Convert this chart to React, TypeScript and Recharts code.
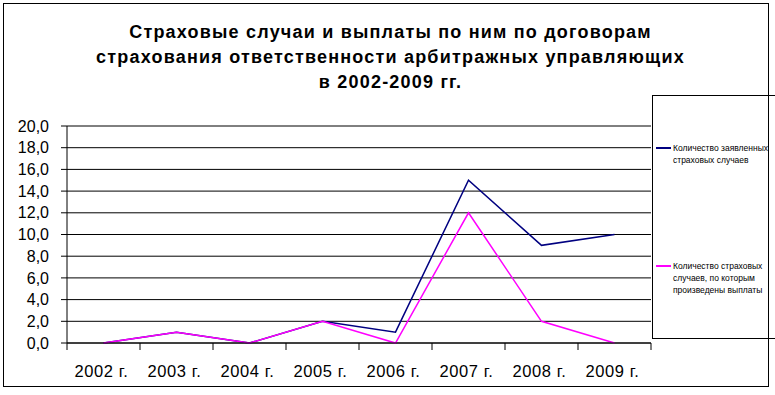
import React from 'react'
import { LineChart, Line, CartesianGrid, XAxis, YAxis } from 'recharts'

const years = ['2002 г.', '2003 г.', '2004 г.', '2005 г.', '2006 г.', '2007 г.', '2008 г.', '2009 г.']
const claimed = [0, 1, 0, 2, 1, 15, 9, 10]
const paid = [0, 1, 0, 2, 0, 12, 2, 0]
const yTicks = [0, 2, 4, 6, 8, 10, 12, 14, 16, 18, 20]

const claimedName = 'Количество заявленных страховых случаев'
const paidName = 'Количество страховых случаев, по которым произведены выплаты'

const data = years.map((y, i) => ({ year: y, claimed: claimed[i], paid: paid[i] }))

const font = 'Arial, "Liberation Sans", sans-serif'
const band = 584 / years.length

function XTick(props: any) {
  const { x, y, payload, index } = props
  const top = 343
  return (
    <g>
      <line x1={x - band / 2} x2={x - band / 2} y1={top} y2={top + 7} stroke="#000" />
      {index === years.length - 1 && (
        <line x1={x + band / 2} x2={x + band / 2} y1={top} y2={top + 7} stroke="#000" />
      )}
      <text x={x - 2} y={y + 26} textAnchor="middle" fontSize={16.5} letterSpacing={0.6} fontFamily={font} fill="#000">
        {payload.value}
      </text>
    </g>
  )
}

function LegendBox() {
  const item = (color: string, lines: string[], top: number) => (
    <div style={{ position: 'absolute', left: 3, top, display: 'flex' }}>
      <div style={{ width: 15, height: 2, background: color, marginTop: 5 }} />
      <div style={{ marginLeft: 2, fontSize: 8.5, lineHeight: '12px', fontFamily: font, color: '#000' }}>
        {lines.map((l) => (
          <div key={l} style={{ whiteSpace: 'nowrap' }}>{l}</div>
        ))}
      </div>
    </div>
  )
  return (
    <div style={{ position: 'absolute', left: 652, top: 95, width: 130, height: 244, borderTop: '1px solid #000', borderLeft: '1px solid #000', borderBottom: '1px solid #000', boxSizing: 'border-box' }}>
      {item('#000080', ['Количество заявленных', 'страховых случаев'], 46)}
      {item('#FF00FF', ['Количество страховых', 'случаев, по которым', 'произведены выплаты'], 164)}
    </div>
  )
}

export default function App() {
  return (
    <div style={{ position: 'absolute', left: 0, top: 0, width: 775, height: 395, background: '#fff', overflow: 'hidden' }}>
      <div style={{ position: 'absolute', left: 0, top: 20, width: 781, textAlign: 'center', fontFamily: font, fontWeight: 'bold', fontSize: 18, letterSpacing: 1.2, lineHeight: '25px', color: '#000' }}>
        Страховые случаи и выплаты по ним по договорам
        <br />
        страхования ответственности арбитражных управляющих
        <br />
        в 2002-2009 гг.
      </div>
      <LineChart width={775} height={395} data={data} margin={{ top: 126, right: 124, left: 7, bottom: 22 }}>
        <CartesianGrid vertical={false} stroke="#000" strokeWidth={1} />
        <XAxis
          dataKey="year"
          height={30}
          padding={{ left: band / 2, right: band / 2 }}
          axisLine={{ stroke: '#000' }}
          tickLine={false}
          tick={<XTick />}
          interval={0}
        />
        <YAxis
          width={60}
          domain={[0, 20]}
          ticks={yTicks}
          interval={0}
          axisLine={{ stroke: '#000' }}
          tickLine={{ stroke: '#000' }}
          tickSize={6}
          tickMargin={12}
          tick={{ fill: '#000', fontSize: 16, fontFamily: font }}
          tickFormatter={(v: number) => v.toFixed(1).replace('.', ',')}
        />
        <Line dataKey="claimed" name={claimedName} stroke="#000080" strokeWidth={1.5} dot={false} type="linear" isAnimationActive={false} />
        <Line dataKey="paid" name={paidName} stroke="#FF00FF" strokeWidth={1.5} dot={false} type="linear" isAnimationActive={false} />
      </LineChart>
      <LegendBox />
      <div style={{ position: 'absolute', left: 3, top: 3, width: 766, height: 384, border: '1px solid #000', boxSizing: 'border-box', pointerEvents: 'none' }} />
    </div>
  )
}
